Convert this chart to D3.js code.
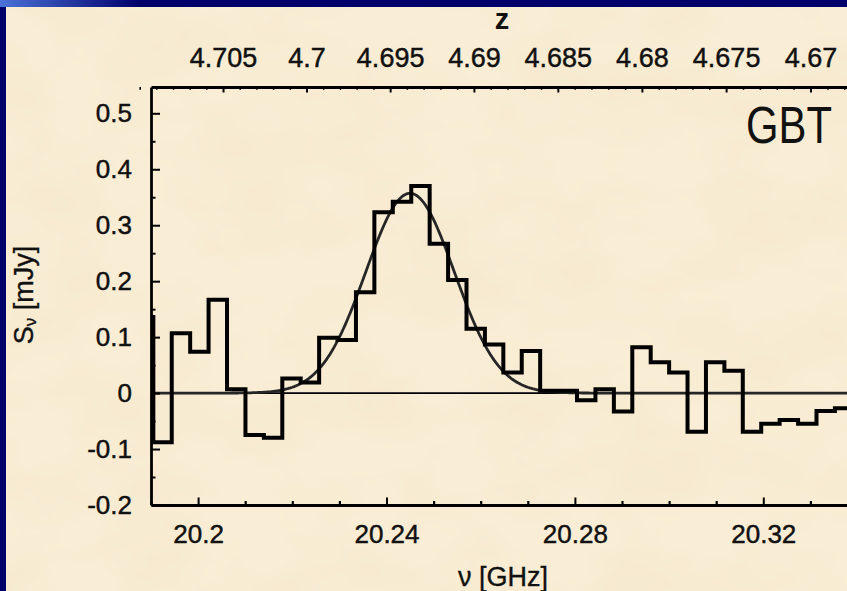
<!DOCTYPE html>
<html>
<head>
<meta charset="utf-8">
<script src="https://cdn.jsdelivr.net/npm/d3@7"></script>
<style>
  html, body { margin: 0; padding: 0; background: #00006a; overflow: hidden; }
  svg { display: block; }
  text { font-family: "Liberation Sans", Arial, Helvetica, sans-serif; fill: #111; }
</style>
</head>
<body>
<svg id="chart" width="847" height="591"></svg>
<script>
// CO(1-0) rest frequency in GHz, used for the redshift axis
const restFreqGHz = 115.2712;

// Spectrum channel centres (GHz)
const channelFreq = [
  20.18854, 20.19245, 20.19636, 20.20027, 20.20418, 20.20810, 20.21201, 20.21592,
  20.21983, 20.22374, 20.22765, 20.23156, 20.23547, 20.23938, 20.24329, 20.24721,
  20.25112, 20.25503, 20.25894, 20.26285, 20.26676, 20.27067, 20.27458, 20.27849,
  20.28240, 20.28632, 20.29023, 20.29414, 20.29805, 20.30196, 20.30587, 20.30978,
  20.31369, 20.31760, 20.32151, 20.32543, 20.32934, 20.33325, 20.33716
];

// Flux density per channel (mJy)
const fluxDensity = [
  0.136, -0.088, 0.107, 0.074, 0.167, 0.007, -0.075, -0.080,
  0.026, 0.019, 0.099, 0.095, 0.180, 0.323, 0.342, 0.370,
  0.267, 0.202, 0.115, 0.087, 0.037, 0.075, 0.004, 0.004,
  -0.013, 0.007, -0.033, 0.082, 0.055, 0.037, -0.069, 0.055,
  0.040, -0.069, -0.055, -0.048, -0.055, -0.032, -0.027
];

// Gaussian line fit parameters
const fitAmplitude = 0.357;   // mJy
const fitCentre = 20.245;     // GHz
const fitSigma = 0.0094;      // GHz

// Axis ticks
const freqTicks = [20.2, 20.24, 20.28, 20.32];
const freqTickLabels = ["20.2", "20.24", "20.28", "20.32"];
const fluxTicks = [-0.2, -0.1, 0, 0.1, 0.2, 0.3, 0.4, 0.5];
const fluxTickLabels = ["-0.2", "-0.1", "0", "0.1", "0.2", "0.3", "0.4", "0.5"];
const zTicks = [4.705, 4.7, 4.695, 4.69, 4.685, 4.68, 4.675, 4.67];
const zTickLabels = ["4.705", "4.7", "4.695", "4.69", "4.685", "4.68", "4.675", "4.67"];

const svg = d3.select("#chart");
const W = 847, H = 591;

const defs = svg.append("defs");

// parchment mottling
const paper = defs.append("filter").attr("id", "paper")
  .attr("x", 0).attr("y", 0).attr("width", "100%").attr("height", "100%");
paper.append("feTurbulence").attr("type", "fractalNoise")
  .attr("baseFrequency", "0.010 0.016").attr("numOctaves", 3).attr("seed", 7);
paper.append("feColorMatrix").attr("type", "matrix")
  .attr("values", "0 0 0 0 0.80  0 0 0 0 0.68  0 0 0 0 0.45  0 0 0 0.30 -0.10");

const soft = defs.append("filter").attr("id", "soft");
soft.append("feGaussianBlur").attr("stdDeviation", 0.45);

const corner = defs.append("linearGradient").attr("id", "corner")
  .attr("x1", 0).attr("y1", 0).attr("x2", 1).attr("y2", 0);
corner.append("stop").attr("offset", "0%").attr("stop-color", "#4a72d8");
corner.append("stop").attr("offset", "100%").attr("stop-color", "#00006a");

// frame and page
svg.append("rect").attr("width", W).attr("height", H).attr("fill", "#00006a");
svg.append("rect").attr("x", 0).attr("y", 0).attr("width", 140).attr("height", 7).attr("fill", "url(#corner)");
svg.append("rect").attr("x", 6).attr("y", 7).attr("width", W - 6).attr("height", H - 7).attr("fill", "#f9edd5");
svg.append("rect").attr("x", 6).attr("y", 7).attr("width", W - 6).attr("height", H - 7)
  .attr("filter", "url(#paper)");

// scales
const x = d3.scaleLinear().domain([20.19, 20.34]).range([151, 857.5]);
const y = d3.scaleLinear().domain([-0.2, 0.547]).range([505, 87]);
const nuFromZ = z => restFreqGHz / (1 + z);

const [px0, px1] = x.range();
const [py0, py1] = y.range();

defs.append("clipPath").attr("id", "plotClip")
  .append("rect").attr("x", px0).attr("y", py1).attr("width", px1 - px0).attr("height", py0 - py1);

const plot = svg.append("g").attr("clip-path", "url(#plotClip)");

// zero line
plot.append("line")
  .attr("x1", px0).attr("x2", px1).attr("y1", y(0)).attr("y2", y(0))
  .attr("stroke", "#000").attr("stroke-width", 1.8);

// Gaussian fit curve
const fitPts = d3.range(20.19, 20.3405, 0.0004).map(f =>
  [f, fitAmplitude * Math.exp(-0.5 * Math.pow((f - fitCentre) / fitSigma, 2))]);
plot.append("path")
  .attr("d", d3.line().x(d => x(d[0])).y(d => y(d[1]))(fitPts))
  .attr("fill", "none").attr("stroke", "#262626").attr("stroke-width", 2.8)
  .attr("filter", "url(#soft)");

// channel edges half-way between centres
const edges = channelFreq.map((f, i) => i === 0 ? f - (channelFreq[1] - f) / 2 : (channelFreq[i - 1] + f) / 2);
edges.push(channelFreq[channelFreq.length - 1] + (channelFreq[channelFreq.length - 1] - channelFreq[channelFreq.length - 2]) / 2);
const stepPts = fluxDensity.flatMap((v, i) => [[edges[i], v], [edges[i + 1], v]]);
plot.append("path")
  .attr("d", d3.line().x(d => x(d[0])).y(d => y(d[1]))(stepPts))
  .attr("fill", "none").attr("stroke", "#000").attr("stroke-width", 4)
  .attr("stroke-linejoin", "miter").attr("stroke-linecap", "square");

// axes
function styleAxis(g, width, font) {
  g.select(".domain").attr("stroke", "#000").attr("stroke-width", width);
  g.selectAll(".tick line").attr("stroke", "#000").attr("stroke-width", 2);
  g.selectAll("text").attr("font-size", font).attr("fill", "#111")
    .attr("stroke", "#111").attr("stroke-width", 0.45)
    .attr("font-family", "'Liberation Sans', Arial, sans-serif");
}

// left axis: minor + major
const fluxMinor = d3.range(-0.15, 0.5, 0.1);
svg.append("g").attr("transform", `translate(${px0},0)`)
  .call(d3.axisLeft(y).tickValues(fluxMinor).tickFormat("").tickSizeInner(-4.5).tickSizeOuter(0))
  .call(g => { g.select(".domain").remove(); g.selectAll(".tick line").attr("stroke", "#000").attr("stroke-width", 2); });
svg.append("g").attr("transform", `translate(${px0},0)`)
  .call(d3.axisLeft(y).tickValues(fluxTicks).tickFormat((d, i) => fluxTickLabels[i])
    .tickSizeInner(-9).tickSizeOuter(0).tickPadding(19))
  .call(g => styleAxis(g, 2.8, 26));

// bottom axis
const freqMinor = d3.range(20.19, 20.345, 0.01).filter(f => !freqTicks.some(t => Math.abs(t - f) < 1e-6));
svg.append("g").attr("transform", `translate(0,${py0})`)
  .call(d3.axisBottom(x).tickValues(freqMinor).tickFormat("").tickSizeInner(-4).tickSizeOuter(0))
  .call(g => { g.select(".domain").remove(); g.selectAll(".tick line").attr("stroke", "#000").attr("stroke-width", 2.2); });
svg.append("g").attr("transform", `translate(0,${py0})`)
  .call(d3.axisBottom(x).tickValues(freqTicks).tickFormat((d, i) => freqTickLabels[i])
    .tickSizeInner(-7.5).tickSizeOuter(0).tickPadding(20))
  .call(g => styleAxis(g, 2.8, 26));

// top redshift axis
const zMinor = d3.range(4.665, 4.7105, 0.001).filter(z => !zTicks.some(t => Math.abs(t - z) < 1e-6));
svg.append("g").attr("transform", `translate(0,${py1})`)
  .call(d3.axisTop(x).tickValues(zMinor.map(nuFromZ)).tickFormat("").tickSizeInner(-2.8).tickSizeOuter(0))
  .call(g => { g.select(".domain").remove(); g.selectAll(".tick line").attr("stroke", "#000").attr("stroke-width", 1.6); });
svg.append("g").attr("transform", `translate(0,${py1})`)
  .call(d3.axisTop(x).tickValues(zTicks.map(nuFromZ)).tickFormat((d, i) => zTickLabels[i])
    .tickSizeInner(-5.5).tickSizeOuter(0).tickPadding(20))
  .call(g => styleAxis(g, 3.2, 27));

// axis titles
svg.append("text").attr("x", 502).attr("y", 29).attr("text-anchor", "middle")
  .attr("font-size", 29).attr("font-weight", "bold").text("z");

svg.append("text").attr("x", 503).attr("y", 586).attr("text-anchor", "middle")
  .attr("font-size", 27).attr("stroke", "#111").attr("stroke-width", 0.35).text("ν [GHz]");

const yTitle = svg.append("text").attr("transform", "translate(33,295) rotate(-90)")
  .attr("text-anchor", "middle").attr("font-size", 27)
  .attr("stroke", "#111").attr("stroke-width", 0.35);
yTitle.append("tspan").text("S");
yTitle.append("tspan").attr("font-size", 17).attr("dy", 3).text("ν");
yTitle.append("tspan").attr("dy", -3).text(" [mJy]");

// telescope label, horizontally narrowed
svg.append("text").attr("transform", "translate(746,143) scale(0.82,1)")
  .attr("font-size", 51).attr("fill", "#000").text("GBT");
</script>
</body>
</html>
